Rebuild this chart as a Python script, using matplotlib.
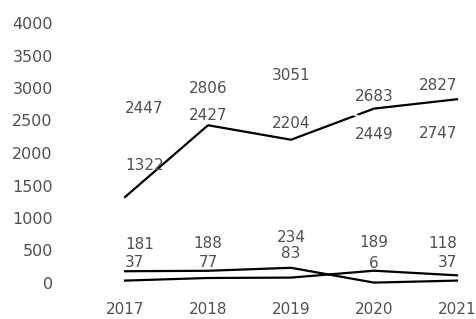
import matplotlib.pyplot as plt

years = [2017, 2018, 2019, 2020, 2021]

# upper group
main_line = [1322, 2427, 2204, 2683, 2827]
hidden_line = [2447, 2806, 3051, 2449, 2747]
# lower group
low_a = [181, 188, 234, 6, 37]
low_b = [37, 77, 83, 189, 118]

yticks = [0, 500, 1000, 1500, 2000, 2500, 3000, 3500, 4000]

# label offsets in points (dy) for each series
main_dy = [23, 7, 11.5, 9, 10]
hidden_dy = [11, 9, 6.5, -8, -21]
low_a_dy = [19, 20, 22, 14, 13]
low_b_dy = [13, 11, 17, 20, 23]
# first column sits right of its point, last column left of it
aligns = ['left', 'center', 'center', 'center', 'right']

FONT = 'DejaVu Sans'
TXT = '#505050'
FS = 11

fig = plt.figure(figsize=(4.76, 3.19), dpi=100)
ax = fig.add_axes([125 / 476, 1 - 283 / 319, 332 / 476, 260 / 319])

ax.plot(years, main_line, color='black', lw=1.6, clip_on=False, zorder=2)
ax.plot(years, hidden_line, color='white', lw=1.6, clip_on=False, zorder=3)
ax.plot(years, low_a, color='black', lw=1.6, clip_on=False, zorder=2)
ax.plot(years, low_b, color='black', lw=1.6, clip_on=False, zorder=2)

for vals, dys in [(main_line, main_dy), (hidden_line, hidden_dy),
                  (low_a, low_a_dy), (low_b, low_b_dy)]:
    for x, v, dy, ha in zip(years, vals, dys, aligns):
        ax.annotate(str(v), (x, v), xytext=(0, dy), textcoords='offset points',
                    ha=ha, va='center', fontsize=FS, color=TXT,
                    family=FONT, zorder=4, annotation_clip=False)

ax.set_xlim(2017, 2021)
ax.set_ylim(0, 4000)
ax.set_xticks(years)
ax.set_xticklabels([str(y) for y in years])
ax.set_yticks(yticks)
ax.tick_params(length=0, labelcolor=TXT)
ax.tick_params(axis='y', pad=52, labelsize=11.5)
ax.tick_params(axis='x', pad=14, labelsize=FS)
for lab in ax.get_xticklabels() + ax.get_yticklabels():
    lab.set_family(FONT)
for s in ax.spines.values():
    s.set_visible(False)
ax.patch.set_alpha(0)

fig.savefig('out.png', dpi=100)
